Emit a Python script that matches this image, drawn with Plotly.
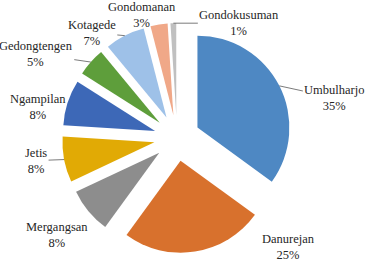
import math
import plotly.graph_objects as go

labels = ["Umbulharjo", "Danurejan", "Mergangsan", "Jetis", "Ngampilan",
          "Gedongtengen", "Kotagede", "Gondomanan", "Gondokusuman"]
values = [35, 25, 8, 8, 8, 5, 7, 3, 1]
colors = ["#4E88C3", "#D8712D", "#8D8D8D", "#E1AA05", "#3D68B7",
          "#5E9E3B", "#9EC1E8", "#F0A888", "#C0C0C0"]

# label placement (text-centre offset in px from the slice's outer mid-point)
label_offsets = [(55, 12), (94, -5), (-31, 24), (-28, 1), (-30, 4),
                 (-55, -8), (-33, -3), (-17, -10), (66, 0)]
leader = [True, False, False, True, False, True, True, True, True]

W, H = 371, 272
dom_x = [0.167, 0.787]
dom_y = [0.07, 0.915]
pull = 0.25
font_size = 12.5
font_family = "Liberation Serif, DejaVu Serif, serif"

fig = go.Figure(go.Pie(
    labels=labels,
    values=values,
    sort=False,
    direction="clockwise",
    rotation=0,
    pull=[pull] * len(values),
    marker=dict(colors=colors, line=dict(width=0)),
    textinfo="none",
    hoverinfo="label+percent",
    domain=dict(x=dom_x, y=dom_y),
    showlegend=False,
))

# pie geometry (pixels) as Plotly computes it
r_px = min((dom_x[1] - dom_x[0]) * W, (dom_y[1] - dom_y[0]) * H) / 2 / (1 + pull)
cx = (dom_x[0] + dom_x[1]) / 2 * W
cy = (1 - (dom_y[0] + dom_y[1]) / 2) * H

total = sum(values)
cum = 0
for lab, v, (ox, oy), ld in zip(labels, values, label_offsets, leader):
    mid = (cum + v / 2) / total * 2 * math.pi
    cum += v
    dx, dy = math.sin(mid), -math.cos(mid)
    edge = r_px * (1 + pull)
    px, py = cx + edge * dx, cy + edge * dy
    txt = f"{lab}<br>{round(v / total * 100)}%"
    fnt = dict(family=font_family, size=font_size, color="#262626")
    if ld:
        fig.add_annotation(
            x=px / W, y=1 - py / H, xref="paper", yref="paper",
            text=txt, showarrow=True, arrowhead=0, arrowwidth=0.8,
            arrowcolor="#595959", standoff=0, startstandoff=0,
            ax=ox, ay=oy, font=fnt, align="center",
        )
    else:
        fig.add_annotation(
            x=(px + ox) / W, y=1 - (py + oy) / H, xref="paper", yref="paper",
            text=txt, showarrow=False, font=fnt, align="center",
            xanchor="center", yanchor="middle",
        )

fig.update_layout(
    width=W, height=H,
    margin=dict(l=0, r=0, t=0, b=0),
    paper_bgcolor="white",
    plot_bgcolor="white",
)
fig.write_html("out.html")
